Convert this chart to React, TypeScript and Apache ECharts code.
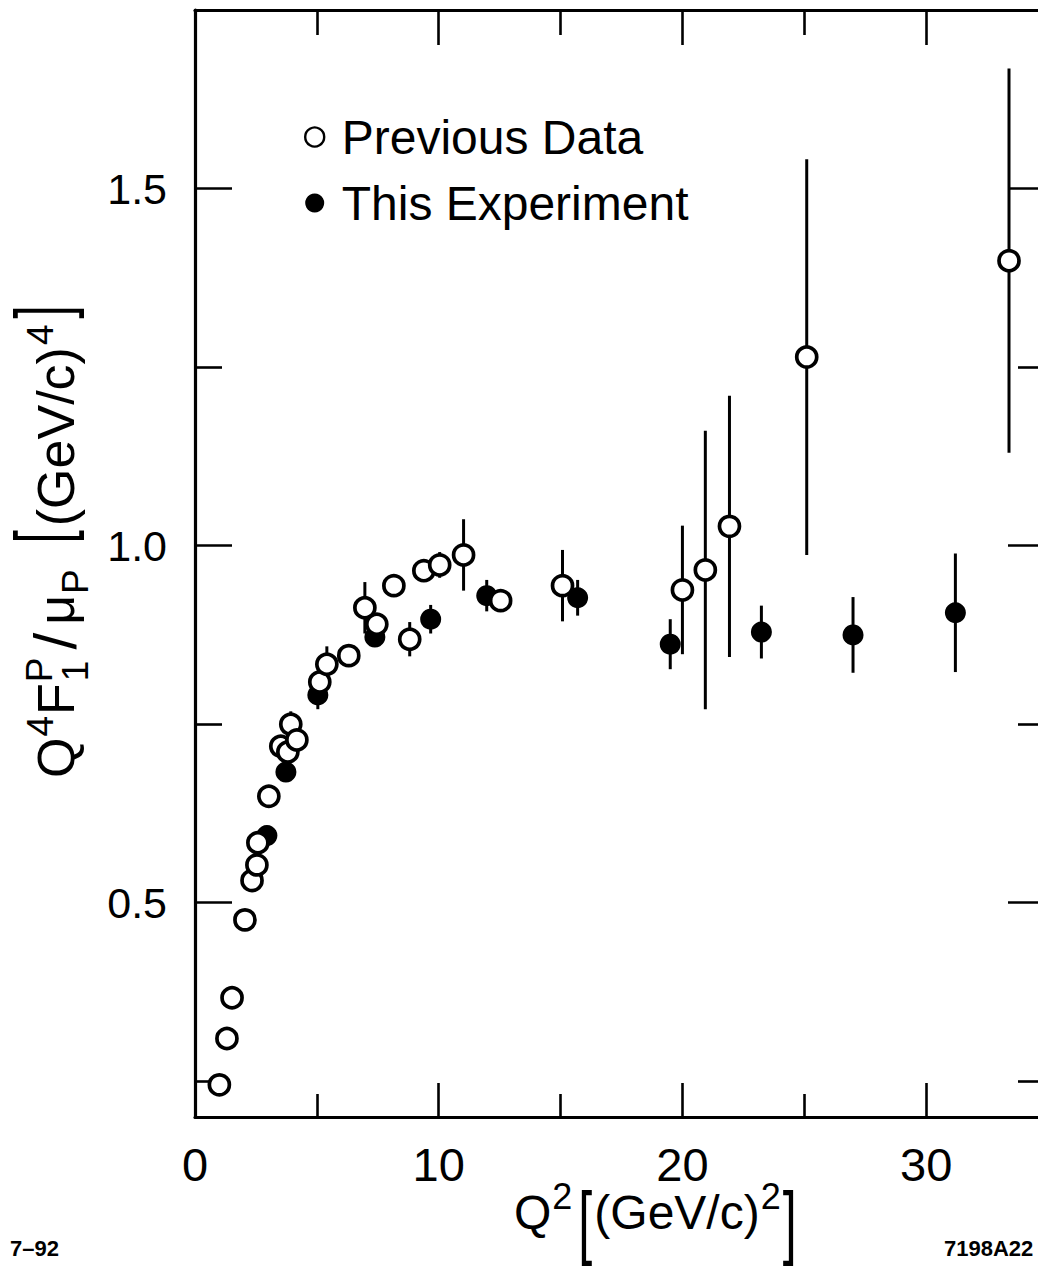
import React, { useEffect, useRef } from "react";
import * as echarts from "echarts";

// ---------- data ----------
// Previous data (open circles)
const prevQ2 = [1.0, 1.31, 1.52, 2.05, 2.34, 2.54, 2.58, 3.03, 3.52, 3.81, 3.93, 4.18, 5.12, 5.41, 6.31, 6.97, 7.46, 8.16, 8.81, 9.39, 10.04, 11.02, 12.54, 15.08, 20.0, 20.94, 21.93, 25.1, 33.4];
const prevVal = [0.245, 0.31, 0.367, 0.476, 0.531, 0.553, 0.584, 0.649, 0.719, 0.711, 0.75, 0.728, 0.809, 0.834, 0.846, 0.913, 0.89, 0.944, 0.869, 0.965, 0.973, 0.987, 0.923, 0.944, 0.938, 0.966, 1.027, 1.264, 1.399];
const prevErr = [0, 0, 0, 0, 0, 0, 0, 0, 0, 0, 0.018, 0, 0.012, 0.025, 0.014, 0.036, 0, 0, 0.024, 0, 0.018, 0.05, 0, 0.05, 0.09, 0.195, 0.183, 0.277, 0.269];
// This experiment (filled circles)
const thisQ2 = [2.95, 3.73, 5.04, 7.38, 9.67, 11.97, 15.7, 19.5, 23.24, 27.0, 31.2];
const thisVal = [0.594, 0.683, 0.791, 0.872, 0.897, 0.93, 0.927, 0.862, 0.879, 0.875, 0.906];
const thisErr = [0.01, 0.01, 0.02, 0.012, 0.02, 0.022, 0.025, 0.035, 0.037, 0.053, 0.083];

// ---------- axes ----------
const xMin = 0;
const xMax = 35;
const yMin = 0.2;
const yMax = 1.75;
const xLabelValues = [0, 10, 20, 30];
const xMajorTicks = [10, 20, 30];
const xMinorTicks = [5, 15, 25];
const yMajorTicks = [0.5, 1.0, 1.5];
const yMinorTicks = [0.25, 0.75, 1.25];

const seriesNames = ["Previous Data", "This Experiment"];

const FONT = '"Liberation Sans", Arial, Helvetica, sans-serif';
const BLACK = "#000";

let measureCtx: CanvasRenderingContext2D | null = null;
function tw(t: string, size: number, weight = "normal"): number {
  if (!measureCtx) measureCtx = document.createElement("canvas").getContext("2d");
  measureCtx!.font = `${weight} ${size}px "Liberation Sans", Arial, sans-serif`;
  return measureCtx!.measureText(t).width;
}

// text element placed by its alphabetic baseline (svg uses central baseline)
function txt(t: string, x: number, baseline: number, size: number, extra: any = {}, weight = "normal") {
  return {
    type: "text",
    x,
    y: baseline - 0.3465 * size,
    ...extra,
    style: {
      text: t,
      fontSize: size,
      fontFamily: FONT,
      fontWeight: weight,
      fill: BLACK,
      align: "left",
      verticalAlign: "middle",
    },
  };
}

function bracket(t: string, x: number, top: number, bottom: number, sx: number) {
  const size = (bottom - top) / 0.926;
  const baseline = top + 0.716 * size;
  return { el: txt(t, x, baseline, size, { scaleX: sx }), w: tw(t, size) * sx };
}

function buildYTitle() {
  const M = 52;
  const S = 37;
  const children: any[] = [];
  let c = 0;
  children.push(txt("Q", c, 0, M));
  c += tw("Q", M) + 1;
  children.push(txt("4", c, -21, S));
  c += tw("4", S) + 1;
  children.push(txt("F", c, 0, M));
  c += tw("F", M) + 1;
  children.push(txt("P", c, -22, S));
  children.push(txt("1", c + 1, 14, S));
  c += Math.max(tw("P", S), tw("1", S)) + 8;
  children.push(txt("/", c, 2, 60));
  c += tw("/", 60) + 8;
  children.push(txt("μ", c, 0, M));
  c += tw("μ", M) + 1;
  children.push(txt("P", c, 14, S));
  c += tw("P", S) + 26;
  const b1 = bracket("[", c, -60, 10, 0.62);
  children.push(b1.el);
  c += b1.w + 4;
  children.push(txt("(GeV/c)", c, 0, M));
  c += tw("(GeV/c)", M) + 2;
  children.push(txt("4", c, -21, S));
  c += tw("4", S) + 6;
  const b2 = bracket("]", c, -60, 10, 0.62);
  children.push(b2.el);
  return { type: "group", x: 74, y: 778, rotation: Math.PI / 2, children };
}

function buildXTitle() {
  const M = 48;
  const S = 36;
  const children: any[] = [];
  let c = 0;
  children.push(txt("Q", c, 0, M));
  c += tw("Q", M) + 1;
  children.push(txt("2", c, -20, S));
  c += tw("2", S) + 6;
  const b1 = bracket("[", c, -38, 37, 0.62);
  children.push(b1.el);
  c += b1.w + 2;
  children.push(txt("(GeV/c)", c, 0, M));
  c += tw("(GeV/c)", M) + 1;
  children.push(txt("2", c, -20, S));
  c += tw("2", S) + 2;
  const b2 = bracket("]", c, -38, 37, 0.62);
  children.push(b2.el);
  return { type: "group", x: 514, y: 1229, children };
}

function xAxisDef(position: string, ticks: number[], len: number, line: boolean, labels: boolean) {
  return {
    type: "value",
    position,
    min: xMin,
    max: xMax,
    axisLine: { show: line, onZero: false, lineStyle: { color: BLACK, width: 3.2 } },
    axisTick: { show: true, inside: true, length: len, customValues: ticks, lineStyle: { color: BLACK, width: 2.6 } },
    axisLabel: labels
      ? { show: true, customValues: xLabelValues, fontSize: 47, color: BLACK, fontFamily: FONT, margin: 24 }
      : { show: false },
    splitLine: { show: false },
  };
}

function yAxisDef(position: string, ticks: number[], len: number, line: boolean, labels: boolean) {
  return {
    type: "value",
    position,
    min: yMin,
    max: yMax,
    axisLine: { show: line, onZero: false, lineStyle: { color: BLACK, width: 3.2 } },
    axisTick: { show: true, inside: true, length: len, customValues: ticks, lineStyle: { color: BLACK, width: 2.6 } },
    axisLabel: labels
      ? {
          show: true,
          customValues: yMajorTicks,
          fontSize: 43,
          color: BLACK,
          fontFamily: FONT,
          margin: 28,
          formatter: (v: number) => v.toFixed(1),
        }
      : { show: false },
    splitLine: { show: false },
  };
}

function errRender(params: any, api: any) {
  const x = api.value(0);
  const p1 = api.coord([x, api.value(1)]);
  const p2 = api.coord([x, api.value(2)]);
  return {
    type: "line",
    shape: { x1: p1[0], y1: p1[1], x2: p2[0], y2: p2[1] },
    style: { stroke: BLACK, lineWidth: 3 },
  };
}

function buildOption() {
  const prevPts = prevQ2.map((x, i) => [x, prevVal[i]]);
  const thisPts = thisQ2.map((x, i) => [x, thisVal[i]]);
  const prevBars = prevQ2
    .map((x, i) => [x, prevVal[i] - prevErr[i], prevVal[i] + prevErr[i], prevErr[i]])
    .filter((d) => d[3] > 0);
  const thisBars = thisQ2.map((x, i) => [x, thisVal[i] - thisErr[i], thisVal[i] + thisErr[i]]);

  return {
    animation: false,
    backgroundColor: "#fff",
    textStyle: { fontFamily: FONT },
    grid: { left: 195, top: 10, width: 853, height: 1107, containLabel: false, outerBoundsMode: "none" },
    xAxis: [
      xAxisDef("bottom", xMajorTicks, 34, true, true),
      xAxisDef("bottom", xMinorTicks, 23, false, false),
      xAxisDef("top", xMajorTicks, 35, true, false),
      xAxisDef("top", xMinorTicks, 25, false, false),
    ],
    yAxis: [
      yAxisDef("left", yMajorTicks, 37, true, true),
      yAxisDef("left", yMinorTicks, 27, false, false),
      yAxisDef("right", yMajorTicks, 40, true, false),
      yAxisDef("right", yMinorTicks, 30, false, false),
    ],
    legend: {
      orient: "vertical",
      left: 304,
      top: 113,
      padding: 0,
      itemWidth: 44,
      itemHeight: 19,
      itemGap: 18,
      selectedMode: false,
      textStyle: { fontSize: 48, lineHeight: 48, color: BLACK, fontFamily: FONT },
      data: [
        { name: seriesNames[0], icon: "circle", itemStyle: { color: "#fff", borderColor: BLACK, borderWidth: 2.4 } },
        { name: seriesNames[1], icon: "circle", itemStyle: { color: BLACK, borderWidth: 0 } },
      ],
    },
    series: [
      {
        type: "custom",
        name: "prevErr",
        renderItem: errRender,
        data: prevBars,
        encode: { x: 0, y: [1, 2] },
        z: 2,
        silent: true,
      },
      {
        type: "custom",
        name: "thisErr",
        renderItem: errRender,
        data: thisBars,
        encode: { x: 0, y: [1, 2] },
        z: 2,
        silent: true,
      },
      {
        type: "scatter",
        name: seriesNames[1],
        data: thisPts,
        symbol: "circle",
        symbolSize: 21,
        itemStyle: { color: BLACK, opacity: 1 },
        z: 3,
      },
      {
        type: "scatter",
        name: seriesNames[0],
        data: prevPts,
        symbol: "circle",
        symbolSize: 20,
        itemStyle: { color: "#fff", borderColor: BLACK, borderWidth: 3.7, opacity: 1 },
        z: 4,
      },
    ],
    graphic: [
      buildYTitle(),
      buildXTitle(),
      txt("7–92", 10, 1256, 22, {}, "bold"),
      txt("7198A22", 944, 1256, 22, {}, "bold"),
    ],
  };
}

export default function App() {
  const ref = useRef<HTMLDivElement>(null);
  useEffect(() => {
    if (!ref.current) return;
    const chart = echarts.init(ref.current, null, { renderer: "svg" });
    chart.setOption(buildOption() as any);
    return () => chart.dispose();
  }, []);
  return (
    <div
      style={{
        position: "absolute",
        left: 0,
        top: 0,
        width: 1038,
        height: 1269,
        overflow: "hidden",
        background: "#fff",
      }}
    >
      <div ref={ref} style={{ width: 1070, height: 1269 }} />
    </div>
  );
}
